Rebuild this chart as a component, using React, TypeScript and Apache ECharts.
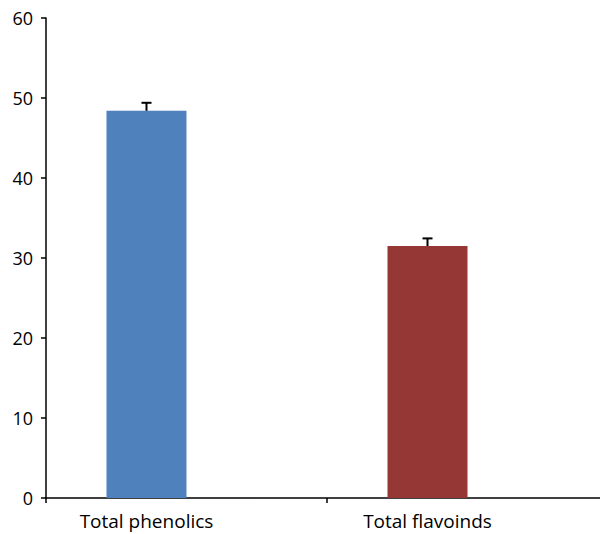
import React, { useEffect, useRef } from "react";
import * as echarts from "echarts";

const categories = ["Total phenolics", "Total flavoinds"];
const values = [48.4, 31.5];
const errors = [1.0, 0.95];
const colors = ["#4F81BD", "#953735"];
const yTicks = { min: 0, max: 60, interval: 10 };
const BAR_W = 80;

export default function App() {
  const ref = useRef<HTMLDivElement>(null);
  useEffect(() => {
    if (!ref.current) return;
    const chart = echarts.init(ref.current, undefined, { renderer: "svg" });
    const font = "'Open Sans', sans-serif";
    chart.setOption({
      animation: false,
      grid: { left: 46, top: 18, bottom: 36, right: 0, containLabel: false },
      xAxis: {
        type: "category",
        data: categories,
        axisLine: { lineStyle: { color: "#000", width: 1.5 } },
        axisTick: { show: true, length: 5, lineStyle: { color: "#000", width: 1.5 } },
        axisLabel: {
          color: "#000",
          fontSize: 19,
          fontFamily: font,
          margin: 13,
          padding: [0, BAR_W, 0, 0],
        },
      },
      yAxis: {
        type: "value",
        min: yTicks.min,
        max: yTicks.max,
        interval: yTicks.interval,
        splitLine: { show: false },
        axisLine: { show: true, lineStyle: { color: "#000", width: 1.5 } },
        axisTick: { show: true, length: 5, lineStyle: { color: "#000", width: 1.5 } },
        axisLabel: { color: "#000", fontSize: 18, fontFamily: font, margin: 13 },
      },
      series: [
        {
          type: "bar",
          data: values.map((v, i) => ({ value: v, itemStyle: { color: colors[i] } })),
          barWidth: BAR_W,
          barGap: "0%",
        },
        {
          type: "bar",
          data: values.map(() => null),
          barWidth: BAR_W,
          barGap: "0%",
        },
        {
          type: "custom",
          data: values.map((v, i) => [i, v, v + errors[i]]),
          renderItem: (params: any, api: any) => {
            const x = api.value(0);
            const lo = api.coord([x, api.value(1)]);
            const hi = api.coord([x, api.value(2)]);
            const cx = lo[0] - BAR_W / 2;
            const half = 5;
            const style = { stroke: "#000", lineWidth: 2 };
            return {
              type: "group",
              children: [
                { type: "line", shape: { x1: cx, y1: lo[1], x2: cx, y2: hi[1] }, style },
                { type: "line", shape: { x1: cx - half, y1: hi[1], x2: cx + half, y2: hi[1] }, style },
              ],
            };
          },
          z: 10,
        },
      ],
    });
    return () => chart.dispose();
  }, []);
  return (
    <div
      style={{ position: "fixed", left: 0, top: 0, width: 600, height: 534, overflow: "hidden", background: "#fff" }}
    >
      <div ref={ref} style={{ width: 608, height: 534 }} />
    </div>
  );
}
